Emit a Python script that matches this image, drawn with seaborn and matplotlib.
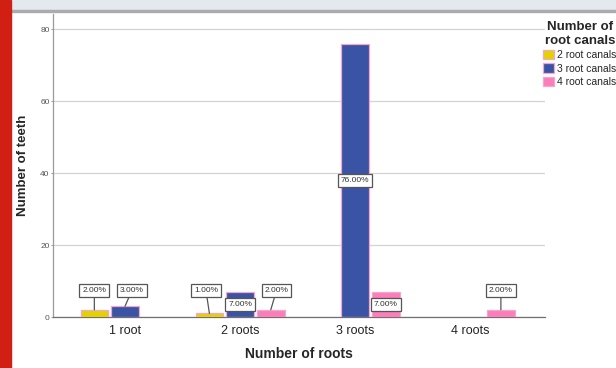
import matplotlib
matplotlib.use("Agg")
import matplotlib.pyplot as plt
from matplotlib.patches import Rectangle, Patch
import pandas as pd
import seaborn as sns

# Teeth counts by number of roots and number of root canals
roots = ["1 root", "2 roots", "3 roots", "4 roots"]
canal_levels = ["2 root canals", "3 root canals", "4 root canals"]
two_canals = [2, 1, 0, 0]
three_canals = [3, 7, 76, 0]
four_canals = [0, 2, 7, 2]
percent_labels = {
    ("1 root", "2 root canals"): "2.00%",
    ("1 root", "3 root canals"): "3.00%",
    ("2 roots", "2 root canals"): "1.00%",
    ("2 roots", "3 root canals"): "7.00%",
    ("2 roots", "4 root canals"): "2.00%",
    ("3 roots", "3 root canals"): "76.00%",
    ("3 roots", "4 root canals"): "7.00%",
    ("4 roots", "4 root canals"): "2.00%",
}
colors = ["#e2d200", "#3b53a4", "#fb7db9"]

rows = []
for lvl, vals in zip(canal_levels, [two_canals, three_canals, four_canals]):
    for r, v in zip(roots, vals):
        rows.append({"roots": r, "canals": lvl, "count": v})
df = pd.DataFrame(rows)
df_drawn = df[df["count"] > 0]

sns.set_style("white")
plt.rcParams["font.family"] = ["Liberation Sans", "DejaVu Sans"]

W, H = 616, 368
fig = plt.figure(figsize=(W / 100, H / 100), dpi=100)

# page decorations: red side stripe and grey header band
fig.patches.append(Rectangle((0, 1 - 10 / H), 1, 10 / H, transform=fig.transFigure,
                             color="#e4e9f0", zorder=0))
fig.patches.append(Rectangle((0, 1 - 12 / H), 1, 2 / H, transform=fig.transFigure,
                             color="#a9abad", zorder=0))
fig.patches.append(Rectangle((0, 0), 11 / W, 1, transform=fig.transFigure,
                             color="#d21f14", zorder=0))

ax = fig.add_axes([53 / W, 1 - 317 / H, (545 - 53) / W, (317 - 14) / H])

sns.barplot(data=df_drawn, x="roots", y="count", hue="canals",
            order=roots, hue_order=canal_levels, palette=colors, saturation=1,
            width=0.8, gap=0.1, edgecolor="#f4a6cb", linewidth=0.9,
            errorbar=None, legend=False, ax=ax, zorder=3)

ax.set_xlim(-0.626, 3.65)
ax.set_ylim(0, 84.2)
ax.set_yticks([0, 20, 40, 60, 80])
ax.yaxis.grid(True, color="#d4d4d4", linewidth=0.9)
ax.set_axisbelow(True)
for s in ["top", "right"]:
    ax.spines[s].set_visible(False)
ax.spines["left"].set_color("#9a9a9a")
ax.spines["left"].set_linewidth(0.9)
ax.spines["bottom"].set_color("#707070")
ax.spines["bottom"].set_linewidth(0.9)
ax.tick_params(axis="y", labelsize=6, labelcolor="#555555", color="#9a9a9a",
               length=1.2, width=0.8, left=True, pad=1.2)
ax.tick_params(axis="x", labelsize=9, labelcolor="#222222", length=0, pad=6)
ax.set_xlabel("Number of roots", fontsize=10, fontweight="bold", labelpad=7)
ax.set_ylabel("Number of teeth", fontsize=9.5, fontweight="bold", labelpad=8)

# boxed percentage labels
offsets = {
    ("1 root", "3 root canals"): 0.06,
    ("2 roots", "2 root canals"): -0.03,
    ("2 roots", "4 root canals"): 0.05,
}
box = dict(boxstyle="square,pad=0.35", fc="white", ec="#555555", lw=0.9)
n_h = len(canal_levels)
for (r, lvl), txt in percent_labels.items():
    i, j = roots.index(r), canal_levels.index(lvl)
    v = df[(df.roots == r) & (df.canals == lvl)]["count"].iloc[0]
    xc = i + (j - (n_h - 1) / 2) * 0.8 / n_h
    if v >= 7:
        ax.text(xc, v / 2, txt, ha="center", va="center", fontsize=6,
                color="#333333", bbox=box, zorder=6)
    else:
        ax.annotate(txt, xy=(xc, v), xytext=(xc + offsets.get((r, lvl), 0), 7.4),
                    ha="center", va="center", fontsize=6, color="#333333",
                    bbox=box, zorder=6,
                    arrowprops=dict(arrowstyle="-", color="#555555", lw=0.9,
                                    shrinkA=0, shrinkB=0))

handles = [Patch(facecolor=c, edgecolor="#f4a6cb", linewidth=0.9) for c in colors]
leg = fig.legend(handles, canal_levels, title="Number of\nroot canals",
                 loc="upper left", bbox_to_anchor=(541 / W, 1 - 19 / H),
                 frameon=False, fontsize=7.5, title_fontsize=9.5,
                 handlelength=1.0, handleheight=1.0, handletextpad=0.35,
                 labelspacing=0.3, borderaxespad=0, borderpad=0.2)
leg.get_title().set_fontweight("bold")
leg.get_title().set_multialignment("center")

fig.savefig("out.png", dpi=100)
